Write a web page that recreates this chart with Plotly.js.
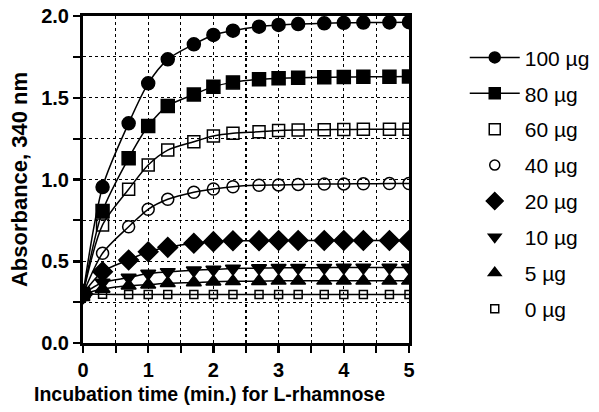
<!DOCTYPE html>
<html>
<head>
<meta charset="utf-8">
<script src="https://cdn.plot.ly/plotly-3.0.1.min.js"></script>
<style>html,body{margin:0;padding:0;background:#fff;}#chart{width:599px;height:412px;}</style>
</head>
<body>
<div id="chart"></div>
<script>
const timeMin = [0, 0.3, 0.7, 1.0, 1.3, 1.7, 2.0, 2.3, 2.7, 3.0, 3.3, 3.7, 4.0, 4.3, 4.7, 5.0];
const seriesNames = ["100 µg", "80 µg", "60 µg", "40 µg", "20 µg", "10 µg", "5 µg", "0 µg"];
const abs100 = [0.30, 0.954, 1.344, 1.588, 1.735, 1.827, 1.884, 1.910, 1.935, 1.945, 1.951, 1.955, 1.958, 1.960, 1.961, 1.962];
const abs80  = [0.30, 0.807, 1.13, 1.327, 1.45, 1.52, 1.568, 1.594, 1.613, 1.619, 1.623, 1.625, 1.627, 1.628, 1.629, 1.63];
const abs60  = [0.30, 0.722, 0.94, 1.089, 1.18, 1.231, 1.266, 1.283, 1.292, 1.30, 1.303, 1.305, 1.306, 1.307, 1.308, 1.308];
const abs40  = [0.30, 0.549, 0.711, 0.818, 0.879, 0.922, 0.942, 0.956, 0.965, 0.967, 0.970, 0.972, 0.973, 0.974, 0.975, 0.975];
const abs20  = [0.30, 0.436, 0.508, 0.558, 0.585, 0.610, 0.620, 0.625, 0.626, 0.627, 0.627, 0.627, 0.627, 0.627, 0.627, 0.627];
const abs10  = [0.30, 0.37, 0.40, 0.425, 0.435, 0.445, 0.45, 0.455, 0.458, 0.46, 0.46, 0.461, 0.462, 0.462, 0.462, 0.462];
const abs5   = [0.30, 0.33, 0.35, 0.357, 0.365, 0.37, 0.375, 0.377, 0.378, 0.38, 0.38, 0.38, 0.38, 0.38, 0.38, 0.38];
const abs0   = [0.30, 0.298, 0.297, 0.297, 0.297, 0.297, 0.297, 0.297, 0.297, 0.297, 0.297, 0.297, 0.297, 0.297, 0.297, 0.297];
const xTitle = 'Incubation time (min.) for L-rhamnose';
const yTitle = 'Absorbance, 340 nm';

const allY = [abs100, abs80, abs60, abs40, abs20, abs10, abs5, abs0];
const styles = [
  {symbol: 'circle', size: 13, legSize: 11, legendLine: true},
  {symbol: 'square', size: 13, legSize: 11, legendLine: true},
  {symbol: 'square-open', size: 12, legSize: 11, legendLine: false},
  {symbol: 'circle-open', size: 12, legSize: 10, legendLine: false},
  {symbol: 'diamond', size: 15, legSize: 13, legendLine: false},
  {symbol: 'triangle-down', size: 13, legSize: 11, legendLine: false},
  {symbol: 'triangle-up', size: 13, legSize: 11, legendLine: false},
  {symbol: 'square-open', size: 8, legSize: 8, legendLine: false}
];

const traces = [];
allY.forEach((ys, i) => {
  traces.push({
    x: timeMin, y: ys, mode: 'lines', type: 'scatter',
    line: {color: 'black', width: 1.5, shape: 'spline', smoothing: 0.8},
    showlegend: false, hoverinfo: 'skip'
  });
});
allY.forEach((ys, i) => {
  const st = styles[i];
  traces.push({
    x: timeMin, y: ys, type: 'scatter', mode: 'markers',
    showlegend: false,
    marker: {symbol: st.symbol, size: st.size, color: 'black',
             line: {color: 'black', width: 1.5}}
  });
});
// legend entries (no data points drawn)
allY.forEach((ys, i) => {
  const st = styles[i];
  traces.push({
    x: [null], y: [null], type: 'scatter',
    mode: st.legendLine ? 'lines+markers' : 'markers',
    name: seriesNames[i], legendgroup: 'g' + i,
    line: {color: 'black', width: 1.5},
    marker: {symbol: st.symbol, size: st.legSize, color: 'black',
             line: {color: 'black', width: 1.5}}
  });
});

const FONT = 'Liberation Sans, Arial, sans-serif';
const axisCommon = {
  showline: true, linecolor: 'black', linewidth: 3, mirror: true,
  ticks: 'outside', ticklen: 7, tickwidth: 2.5, tickcolor: 'black',
  showgrid: true, gridcolor: 'black', gridwidth: 1.2, griddash: 'dot',
  zeroline: false, automargin: false,
  tickfont: {family: FONT, size: 20, color: 'black', weight: 'bold'}
};

const layout = {
  width: 599, height: 412,
  margin: {l: 83, r: 190, t: 16, b: 69, autoexpand: false},
  paper_bgcolor: 'white', plot_bgcolor: 'white',
  showlegend: true,
  xaxis: Object.assign({}, axisCommon, {
    range: [0, 5], dtick: 1, tick0: 0,
    minor: {dtick: 0.5, ticks: 'outside', ticklen: 7, tickwidth: 2, tickcolor: 'black',
            showgrid: true, gridcolor: 'black', gridwidth: 1.2, griddash: 'dot'}
  }),
  yaxis: Object.assign({}, axisCommon, {
    range: [0, 2], dtick: 0.5, tick0: 0, tickformat: '.1f',
    minor: {dtick: 0.25, ticks: 'outside', ticklen: 7, tickwidth: 2, tickcolor: 'black',
            showgrid: true, gridcolor: 'black', gridwidth: 1.2, griddash: 'dot'},
    title: {text: yTitle, standoff: 8,
            font: {family: FONT, size: 22, color: 'black', weight: 'bold'}}
  }),
  annotations: [{
    text: xTitle, xref: 'paper', yref: 'paper', x: 0.387, y: -0.155,
    xanchor: 'center', yanchor: 'middle', showarrow: false,
    font: {family: FONT, size: 19.5, color: 'black', weight: 'bold'}
  }],
  legend: {
    x: 1.171, xanchor: 'left', y: 0.935, yanchor: 'top',
    font: {family: FONT, size: 21, color: 'black'},
    itemwidth: 50,
    tracegroupgap: 5.6, bgcolor: 'rgba(0,0,0,0)', borderwidth: 0
  }
};

Plotly.newPlot('chart', traces, layout, {displayModeBar: false, staticPlot: true});
</script>
</body>
</html>
